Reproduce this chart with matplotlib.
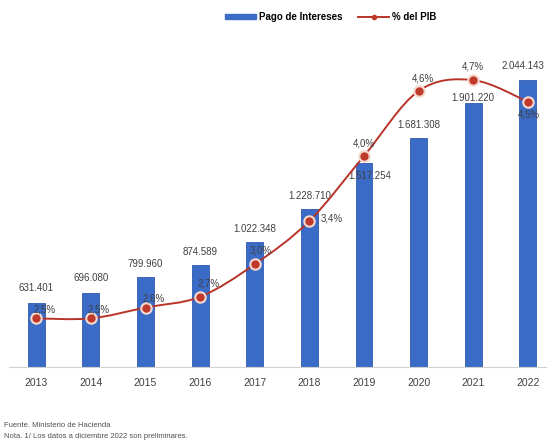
import matplotlib.pyplot as plt
from matplotlib.path import Path
from matplotlib.patches import PathPatch, Patch
from matplotlib.lines import Line2D

plt.rcParams['font.family'] = ['Liberation Sans Narrow', 'Liberation Sans', 'DejaVu Sans']

# Data
years = ['2013', '2014', '2015', '2016', '2017', '2018', '2019', '2020', '2021', '2022']
pago = [631401, 696080, 799960, 874589, 1022348, 1228710, 1517254, 1681308, 1901220, 2044143]
pib = [2.5, 2.5, 2.6, 2.7, 3.0, 3.4, 4.0, 4.6, 4.7, 4.5]

# label offsets in pixels (dx, dy)
val_off = [(0, 15), (0, 15), (0, 13), (0, 13), (0, 13), (0, 13), (6, -13), (0, 13), (0, 5), (-5, 14)]
pct_off = [(8, 9), (8, 9), (8, 9), (8, 13), (6, 14), (22, 2), (0, 12), (4, 12), (0, 14), (1, -13)]

bar_color = '#3A6BC6'
line_color = '#B8342A'
text_color = '#404040'

fig = plt.figure(figsize=(5.47, 4.45), dpi=100, facecolor='white')
ax = fig.add_axes([9 / 547, 0.175, 1 - 9 / 547, 0.735])
x = list(range(len(years)))

ax.bar(x, pago, width=0.31, color=bar_color, edgecolor='#2F5AAE', linewidth=0.6, zorder=2)
ax.set_xlim(-0.5, 9.35)
ax.set_ylim(226000, 2300000)
ax.set_yticks([])
ax.set_xticks(x)
ax.set_xticklabels(years, fontsize=7.5, color=text_color)
ax.tick_params(axis='x', length=0, pad=8)
for s in ['top', 'right', 'left']:
    ax.spines[s].set_visible(False)
ax.spines['bottom'].set_color('#D0D0D0')
ax.spines['bottom'].set_linewidth(0.8)

for i, v in enumerate(pago):
    lab = f'{v:,}'.replace(',', '.')
    ax.annotate(lab, (i, v), xytext=(val_off[i][0] * 0.72, val_off[i][1] * 0.72),
                textcoords='offset points', ha='center', va='center',
                fontsize=7, color=text_color, zorder=5)

# secondary axis for % del PIB
ax2 = ax.twinx()
ax2.set_ylim(2.05, 5.07)
ax2.axis('off')

# smooth curve (Catmull-Rom as cubic Bezier)
pts = list(zip(x, pib))
verts = [pts[0]]
codes = [Path.MOVETO]
for i in range(len(pts) - 1):
    p0 = pts[i - 1] if i > 0 else pts[i]
    p1 = pts[i]
    p2 = pts[i + 1]
    p3 = pts[i + 2] if i + 2 < len(pts) else pts[i + 1]
    c1 = (p1[0] + (p2[0] - p0[0]) / 6, p1[1] + (p2[1] - p0[1]) / 6)
    c2 = (p2[0] - (p3[0] - p1[0]) / 6, p2[1] - (p3[1] - p1[1]) / 6)
    verts += [c1, c2, p2]
    codes += [Path.CURVE4] * 3
ax2.add_patch(PathPatch(Path(verts, codes), facecolor='none', edgecolor=line_color,
                        linewidth=1.4, zorder=3))
ax2.plot(x, pib, linestyle='none', marker='o', markersize=7.5, markerfacecolor='#C0392B',
         markeredgecolor='#F3D9D0', markeredgewidth=1.5, zorder=4)

for i, v in enumerate(pib):
    lab = f'{v:.1f}%'.replace('.', ',')
    ax2.annotate(lab, (i, v), xytext=(pct_off[i][0] * 0.72, pct_off[i][1] * 0.72),
                 textcoords='offset points', ha='center', va='center',
                 fontsize=7, color=text_color, zorder=5)

# legend
handles = [Patch(facecolor=bar_color, edgecolor=bar_color),
           Line2D([0], [0], color=line_color, linewidth=1.4, marker='o', markersize=3,
                  markerfacecolor='#C0392B', markeredgecolor='#C0392B')]
fig.legend(handles, ['Pago de Intereses', '% del PIB'], loc='center',
           bbox_to_anchor=(0.605, 0.962), ncol=2, frameon=False,
           handlelength=3.2, handleheight=0.35, columnspacing=1.6, handletextpad=0.3,
           prop={'weight': 'bold', 'size': 7})

# footer
fig.text(0.008, 0.041, 'Fuente. Ministerio de Hacienda', fontsize=5.5, color='#505050')
fig.text(0.008, 0.016, 'Nota. 1/ Los datos a diciembre 2022 son preliminares.', fontsize=5.5,
         color='#505050')

fig.savefig('out.png', dpi=100, facecolor='white')
